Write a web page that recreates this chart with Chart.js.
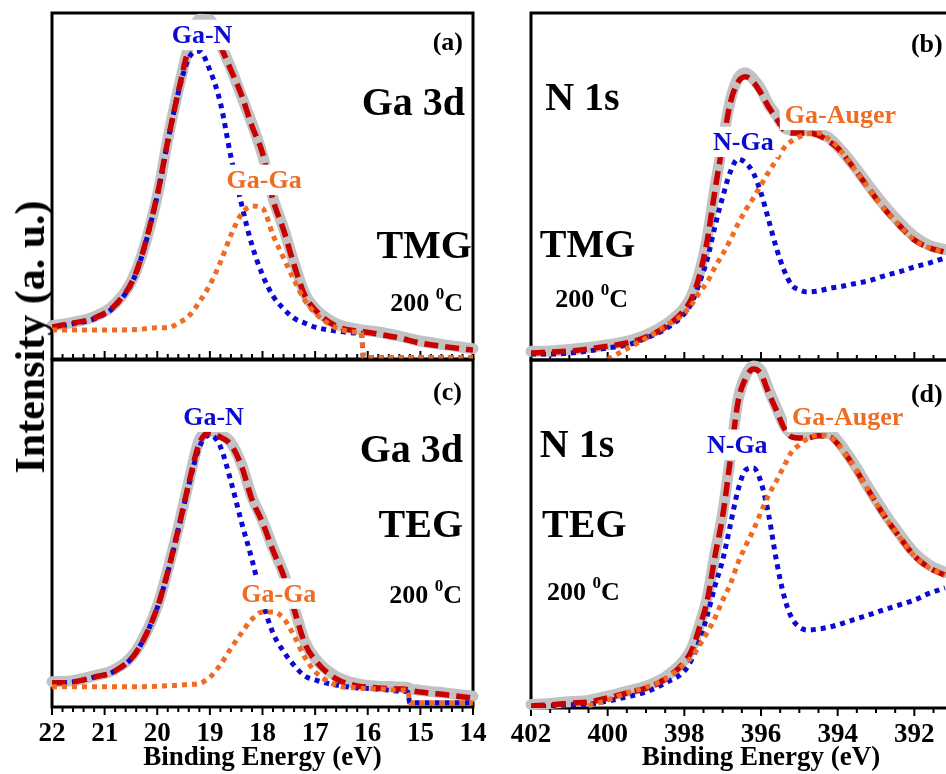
<!DOCTYPE html>
<html>
<head>
<meta charset="utf-8">
<script src="https://cdn.jsdelivr.net/npm/chart.js@4/dist/chart.umd.min.js"></script>
<style>
  html, body { margin: 0; padding: 0; width: 946px; height: 774px; overflow: hidden; background: #fff; }
  canvas { position: absolute; }
  #ylabel {
    position: absolute; left: 30px; top: 337px;
    transform: translate(-50%, -50%) rotate(-90deg);
    font: bold 42px 'Liberation Serif', 'Times New Roman', serif;
    white-space: nowrap; color: #000;
  }
</style>
</head>
<body>
<canvas id="chartA" width="490" height="362" style="left:0;top:0"></canvas>
<canvas id="chartB" width="540" height="362" style="left:490px;top:0"></canvas>
<canvas id="chartC" width="490" height="434" style="left:0;top:340px"></canvas>
<canvas id="chartD" width="540" height="434" style="left:490px;top:340px"></canvas>
<div id="ylabel">Intensity (a. u.)</div>

<script>
'use strict';

// ── Data: Ga 3d, TMG (a) ──────────────────────────────────────────────────────
const energyA = [22, 21.6, 21.2, 20.8, 20.4, 20.0, 19.8, 19.6, 19.4, 19.2, 19.0, 18.8, 18.6, 18.4, 18.2,
  18.0, 17.8, 17.6, 17.4, 17.2, 17.0, 16.6, 16.2, 16.12, 16.08, 15.8, 15.4, 15.0, 14.5, 14.0];
const rawA  = [9.6, 10.6, 12.2, 16.0, 25.5, 47.0, 63.5, 77.8, 90.5, 98.2, 98.0, 91.0, 84.0, 76.0, 68.0,
  59.0, 46.5, 37.8, 27.8, 19.0, 14.6, 10.2, 8.6, 8.4, 8.3, 7.8, 6.6, 5.2, 4.0, 3.0];
const fitA  = [9.2, 10.4, 11.8, 15.6, 25.1, 47.4, 63.0, 77.2, 89.9, 96.5, 97.0, 90.5, 83.5, 76.3, 67.3,
  59.5, 46.0, 37.3, 27.2, 18.5, 14.2, 9.5, 8.1, 8.0, 7.9, 7.2, 6.1, 4.6, 3.5, 2.6];
const gaNA  = [9.0, 10.2, 11.6, 15.4, 24.9, 47.2, 62.8, 77.0, 87.0, 89.0, 83.5, 74.0, 58.4, 44.8, 32.9,
  24.3, 18.2, 14.5, 11.8, 10.4, 9.2, 8.1, 7.5, 7.4, 0.4, 0.4, 0.4, 0.4, 0.4, 0.4];
const gaGaA = [8.4, 8.4, 8.4, 8.4, 8.5, 9.0, 9.0, 10.4, 12.4, 16.5, 21.4, 28.0, 35.8, 41.9, 44.2,
  43.6, 35.8, 29.2, 22.8, 17.1, 13.3, 9.0, 7.8, 7.7, 0.4, 0.4, 0.4, 0.4, 0.4, 0.4];

// ── Data: Ga 3d, TEG (c) ──────────────────────────────────────────────────────
const energyC = [22, 21.6, 21.2, 20.8, 20.4, 20.0, 19.8, 19.6, 19.4, 19.2, 19.0, 18.8, 18.6, 18.4, 18.2,
  18.0, 17.8, 17.6, 17.4, 17.2, 17.0, 16.6, 16.2, 15.8, 15.4, 15.24, 15.2, 15.0, 14.5, 14.0];
const rawC  = [7.3, 7.6, 9.0, 10.9, 16.3, 29.0, 39.6, 51.8, 65.0, 77.0, 79.5, 78.6, 76.2, 70.0, 60.5,
  53.8, 45.8, 38.5, 28.8, 19.0, 14.0, 8.8, 6.7, 6.0, 5.8, 5.6, 5.3, 4.8, 4.0, 3.1];
const fitC  = [6.9, 7.2, 8.6, 10.4, 15.8, 28.6, 39.0, 51.3, 64.5, 76.0, 79.0, 77.8, 75.6, 69.5, 59.8,
  53.2, 45.1, 37.9, 28.2, 18.5, 13.5, 8.1, 6.1, 5.5, 5.2, 5.0, 4.8, 4.3, 3.5, 2.6];
const gaNC  = [6.9, 7.2, 8.6, 10.4, 15.8, 28.6, 38.8, 51.0, 64.0, 74.9, 78.4, 75.0, 65.0, 53.3, 42.5,
  30.4, 21.3, 16.0, 12.0, 9.0, 7.8, 6.3, 5.5, 5.2, 4.6, 4.3, 1.2, 1.2, 1.2, 1.2];
const gaGaC = [5.8, 5.8, 5.8, 5.8, 5.8, 6.0, 6.1, 6.3, 6.5, 6.8, 8.6, 12.2, 16.9, 21.3, 25.3,
  27.4, 27.4, 25.6, 20.5, 14.4, 10.2, 6.3, 5.5, 5.2, 4.9, 4.9, 1.2, 1.2, 1.2, 1.2];

// ── Data: N 1s, TMG (b) and TEG (d) ───────────────────────────────────────────
const energyN = [402, 401.5, 401, 400.5, 400, 399.5, 399, 398.5, 398, 397.8, 397.6, 397.4, 397.2, 397.0,
  396.8, 396.6, 396.4, 396.2, 396.0, 395.8, 395.6, 395.4, 395.2, 395.0, 394.8, 394.5, 394.2, 394.0,
  393.6, 393.2, 392.8, 392.4, 392.0, 391.6, 391.2];
const rawB   = [2.5, 2.6, 3.0, 3.6, 4.4, 5.4, 7.2, 10.2, 15.0, 18.8, 25.4, 35.4, 49.8, 62.8,
  74.8, 81.2, 82.8, 81.0, 78.0, 73.6, 70.6, 67.0, 66.2, 66.0, 66.2, 65.4, 63.8, 61.6,
  56.4, 50.4, 44.8, 39.8, 35.6, 33.0, 31.8];
const fitB   = [2.0, 2.3, 2.6, 3.2, 4.0, 4.9, 6.6, 9.5, 14.4, 17.9, 24.5, 34.6, 49.0, 62.0,
  74.1, 80.1, 81.6, 80.1, 76.9, 72.9, 69.7, 66.3, 65.4, 65.4, 65.4, 64.8, 62.8, 61.1,
  55.6, 49.6, 43.8, 38.9, 34.6, 32.3, 31.1];
const nGaB   = [1.7, 1.7, 2.0, 2.6, 3.5, 4.3, 6.3, 8.9, 13.3, 16.7, 22.5, 29.1, 38.6, 47.0,
  54.2, 57.9, 56.8, 53.9, 48.1, 40.3, 32.3, 25.9, 21.6, 20.2, 19.6, 19.9, 20.7, 21.0,
  21.9, 22.8, 24.2, 25.4, 26.8, 28.0, 29.4];
const augerB = [null, null, null, null, 0.2, 3.2, 6.3, 9.8, 13.5, 16.1, 19.6, 22.5, 26.8, 30.5,
  34.6, 39.2, 43.2, 46.7, 50.4, 54.2, 57.6, 61.1, 63.1, 64.3, 65.1, 65.4, 63.4, 61.4,
  55.6, 49.6, 43.8, 38.9, 34.6, 32.3, 31.1];

const rawD   = [1.0, 1.3, 1.8, 2.2, 3.4, 4.8, 6.3, 8.9, 13.8, 17.4, 24.0, 31.8, 44.4, 56.0,
  72.0, 88.6, 95.6, 98.3, 97.0, 91.4, 86.4, 81.3, 78.8, 78.4, 78.6, 79.0, 78.8, 76.8,
  70.6, 63.4, 56.4, 50.2, 44.6, 41.0, 39.0];
const fitD   = [0.6, 0.9, 1.4, 1.7, 2.9, 4.3, 5.7, 8.3, 13.2, 16.7, 23.3, 31.0, 43.7, 55.2,
  71.3, 87.9, 94.8, 97.4, 96.0, 90.5, 85.6, 80.5, 77.9, 77.6, 77.6, 78.2, 77.9, 75.9,
  69.8, 62.6, 55.5, 49.4, 43.7, 40.2, 38.2];
const nGaD   = [0.3, 0.6, 0.9, 1.1, 2.0, 3.2, 4.6, 7.2, 10.6, 14.1, 19.5, 26.7, 35.1, 42.5,
  52.6, 62.6, 68.4, 69.0, 64.9, 55.5, 42.5, 32.2, 25.9, 23.3, 22.4, 22.7, 23.3, 23.9,
  25.3, 26.7, 28.2, 29.6, 31.0, 33.0, 34.5];
const augerD = [null, null, null, 0.6, 2.3, 4.3, 6.0, 8.3, 12.6, 14.7, 18.1, 21.8, 25.9, 31.0,
  35.6, 41.7, 46.6, 51.1, 56.3, 61.2, 65.2, 69.5, 73.6, 75.6, 77.3, 78.4, 77.9, 75.9,
  69.8, 62.6, 55.5, 49.4, 43.7, 40.2, 38.2];

// ── Styles ────────────────────────────────────────────────────────────────────
const SERIF  = "'Liberation Serif', 'Times New Roman', serif";
const BLUE   = '#0a0ad4';
const ORANGE = '#f06c22';
const RED    = '#c80000';
const GRAY   = '#c2c2c2';

Chart.defaults.font.family = SERIF;

// text annotations, placed in data coordinates (eV, a.u.)
const labelsA = [
  { text: 'Ga-N', x: 19.15, y: 91.3, color: BLUE, align: 'center', box: true },
  { text: '(a)', x: 14.19, y: 89.3, align: 'right' },
  { text: 'Ga 3d', x: 14.15, y: 70.5, size: 40, align: 'right' },
  { text: 'Ga-Ga', x: 17.97, y: 49.4, color: ORANGE, align: 'center', box: true },
  { text: 'TMG', x: 14.02, y: 29.2, size: 40, align: 'right' },
  { text: '200', sup: '0', tail: 'C', x: 14.19, y: 13.9, align: 'right' },
];
const labelsB = [
  { text: '(b)', x: 391.26, y: 88.8, align: 'right' },
  { text: 'N 1s', x: 401.63, y: 72.0, size: 40, align: 'left' },
  { text: 'Ga-Auger', x: 395.38, y: 68.3, color: ORANGE, align: 'left', box: true },
  { text: 'N-Ga', x: 397.25, y: 60.5, color: BLUE, align: 'left', box: true },
  { text: 'TMG', x: 401.77, y: 29.7, size: 40, align: 'left' },
  { text: '200', sup: '0', tail: 'C', x: 401.37, y: 15.3, align: 'left' },
];
const labelsC = [
  { text: '(c)', x: 14.21, y: 88.5, align: 'right' },
  { text: 'Ga-N', x: 18.93, y: 81.3, color: BLUE, align: 'center', box: true },
  { text: 'Ga 3d', x: 14.19, y: 70.6, size: 40, align: 'right' },
  { text: 'TEG', x: 14.19, y: 49.0, size: 40, align: 'right' },
  { text: 'Ga-Ga', x: 17.69, y: 30.3, color: ORANGE, align: 'center', box: true },
  { text: '200', sup: '0', tail: 'C', x: 14.21, y: 30.0, align: 'right' },
];
const labelsD = [
  { text: '(d)', x: 391.26, y: 87.9, align: 'right' },
  { text: 'Ga-Auger', x: 395.19, y: 81.3, color: ORANGE, align: 'left', box: true },
  { text: 'N 1s', x: 401.77, y: 72.1, size: 40, align: 'left' },
  { text: 'N-Ga', x: 397.41, y: 73.3, color: BLUE, align: 'left', box: true },
  { text: 'TEG', x: 401.71, y: 49.1, size: 40, align: 'left' },
  { text: '200', sup: '0', tail: 'C', x: 401.58, y: 31.0, align: 'left' },
];

// ── Panels ────────────────────────────────────────────────────────────────────
makePanel('chartA', {
  energy: energyA, raw: rawA, fit: fitA, comp1: gaNA, comp2: gaGaA,
  min: 14, max: 22, minor: 0.2, major: 1, tickDir: -1,
  pad: { left: 52, top: 13, right: 17, bottom: 3 }, labels: labelsA,
});
makePanel('chartB', {
  energy: energyN, raw: rawB, fit: fitB, comp1: nGaB, comp2: augerB,
  min: 390, max: 402, minor: 0.5, major: 2, tickDir: -1,
  pad: { left: 41, top: 13, right: 39, bottom: 2 }, labels: labelsB,
});
makePanel('chartC', {
  energy: energyC, raw: rawC, fit: fitC, comp1: gaNC, comp2: gaGaC,
  min: 14, max: 22, minor: 0.2, major: 1, tickDir: 1, axisH: 67, step: 1,
  pad: { left: 52, top: 20, right: 17, bottom: 0 }, labels: labelsC,
});
makePanel('chartD', {
  energy: energyN, raw: rawD, fit: fitD, comp1: nGaD, comp2: augerD,
  min: 390, max: 402, minor: 0.5, major: 2, tickDir: 1, axisH: 66, step: 2,
  pad: { left: 41, top: 20, right: 39, bottom: 0 }, labels: labelsD,
});

function series(energy, vals) {
  return energy.map((e, i) => ({ x: e, y: vals[i] }));
}

function makePanel(id, p) {
  const showX = !!p.axisH;
  const common = { pointRadius: 0, cubicInterpolationMode: 'monotone', spanGaps: false };
  return new Chart(document.getElementById(id), {
    type: 'line',
    data: {
      datasets: [
        { ...common, data: series(p.energy, p.raw), borderColor: GRAY, borderWidth: 11,
          borderCapStyle: 'round', borderJoinStyle: 'round', clip: 8, order: 4 },
        { ...common, data: series(p.energy, p.comp1), borderColor: BLUE, borderWidth: 5,
          borderDash: [5, 5], order: 3 },
        { ...common, data: series(p.energy, p.fit), borderColor: RED, borderWidth: 5.5,
          borderDash: [14, 7], order: 2 },
        { ...common, data: series(p.energy, p.comp2), borderColor: ORANGE, borderWidth: 5,
          borderDash: [5, 5], order: 1 },
      ],
    },
    options: {
      responsive: false,
      animation: false,
      devicePixelRatio: 1,
      layout: { padding: p.pad },
      plugins: { legend: { display: false }, tooltip: { enabled: false } },
      scales: {
        x: {
          type: 'linear', reverse: true, min: p.min, max: p.max,
          display: showX,
          afterFit: s => { if (showX) s.height = p.axisH; },
          grid: { display: false },
          border: { display: false },
          ticks: {
            stepSize: p.step || 1, autoSkip: false, maxRotation: 0, padding: 3,
            color: '#000', font: { size: 27, weight: 'bold' },
            callback: v => String(v),
          },
          title: {
            display: showX, text: 'Binding Energy (eV)', color: '#000',
            font: { size: 27, weight: 'bold' }, padding: { top: 0, bottom: 0 },
          },
        },
        y: { display: false, min: 0, max: 100 },
      },
    },
    plugins: [decor(p)],
  });
}

// frame + minor/major tick marks under the curves, labels on top of them
function decor(p) {
  return {
    id: 'decor',
    beforeDatasetsDraw(chart) {
      const { ctx, chartArea: a } = chart;
      const x = chart.scales.x;
      ctx.save();
      ctx.strokeStyle = '#000';
      ctx.lineWidth = 2;
      const n = Math.round((p.max - p.min) / p.minor);
      for (let i = 0; i <= n; i++) {
        const v = p.min + i * p.minor;
        const q = v / p.major;
        const len = Math.abs(q - Math.round(q)) < 1e-6 ? 8 : 5;
        const px = x.getPixelForValue(v);
        ctx.beginPath();
        ctx.moveTo(px, a.bottom);
        ctx.lineTo(px, a.bottom + p.tickDir * len);
        ctx.stroke();
      }
      ctx.lineWidth = 3;
      ctx.strokeRect(a.left, a.top, a.right - a.left, a.bottom - a.top);
      ctx.restore();
    },
    afterDatasetsDraw(chart) {
      p.labels.forEach(l => drawLabel(chart, l));
    },
  };
}

function drawLabel(chart, l) {
  const { ctx, scales } = chart;
  const px = scales.x.getPixelForValue(l.x);
  const py = scales.y.getPixelForValue(l.y);
  const size = l.size || 26;
  const big = `bold ${size}px ${SERIF}`;
  const small = `bold ${Math.round(size * 0.65)}px ${SERIF}`;
  const parts = l.sup
    ? [{ t: l.text + ' ', f: big, dy: 0 }, { t: l.sup, f: small, dy: -12 }, { t: l.tail, f: big, dy: 0 }]
    : [{ t: l.text, f: big, dy: 0 }];

  ctx.save();
  ctx.textBaseline = 'alphabetic';
  ctx.textAlign = 'left';
  let w = 0;
  parts.forEach(s => { ctx.font = s.f; s.w = ctx.measureText(s.t).width; w += s.w; });
  let left = l.align === 'right' ? px - w : l.align === 'center' ? px - w / 2 : px;
  if (l.box) {
    ctx.fillStyle = '#fff';
    ctx.fillRect(left - 5, py - size * 0.9, w + 10, size * 1.17);
  }
  ctx.fillStyle = l.color || '#000';
  parts.forEach(s => { ctx.font = s.f; ctx.fillText(s.t, left, py + s.dy); left += s.w; });
  ctx.restore();
}
</script>
</body>
</html>
